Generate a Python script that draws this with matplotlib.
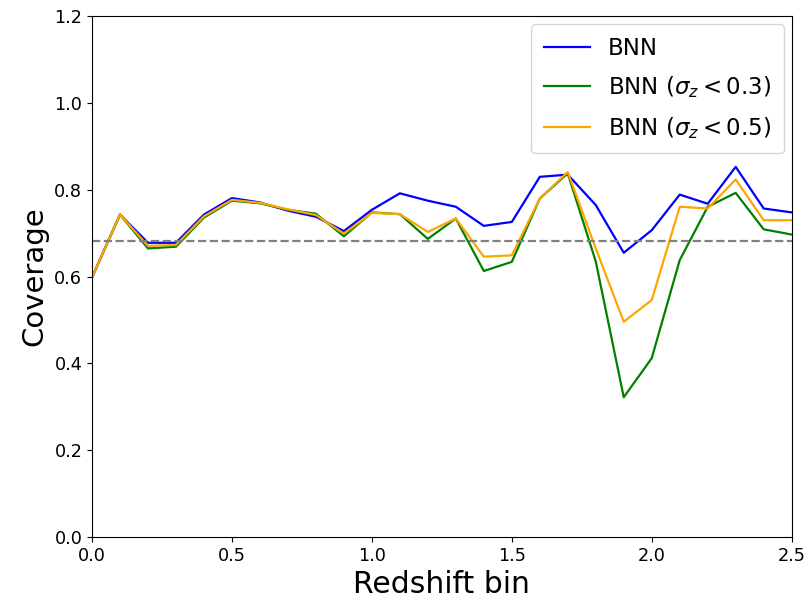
import matplotlib
matplotlib.use("Agg")
import matplotlib.pyplot as plt
import numpy as np

# redshift bins
z_bins = np.round(np.arange(0.0, 2.51, 0.1), 1)

cov_bnn = [0.598, 0.743, 0.678, 0.678, 0.743, 0.781, 0.771, 0.752, 0.738, 0.705,
           0.754, 0.792, 0.775, 0.761, 0.717, 0.726, 0.830, 0.835, 0.765, 0.655,
           0.707, 0.789, 0.768, 0.853, 0.757, 0.748]
cov_sig03 = [0.598, 0.743, 0.665, 0.669, 0.736, 0.775, 0.769, 0.754, 0.745, 0.693,
             0.748, 0.744, 0.687, 0.734, 0.613, 0.634, 0.780, 0.838, 0.635, 0.322,
             0.412, 0.638, 0.761, 0.793, 0.709, 0.697]
cov_sig05 = [0.598, 0.743, 0.671, 0.673, 0.739, 0.777, 0.770, 0.755, 0.742, 0.699,
             0.747, 0.744, 0.703, 0.734, 0.646, 0.649, 0.780, 0.841, 0.665, 0.496,
             0.546, 0.761, 0.757, 0.824, 0.730, 0.730]
target = 0.683

fig = plt.figure(figsize=(8.07, 6.03), dpi=100)
ax = fig.add_axes([0.114, 0.1095, 0.867, 0.8635])

ax.plot(z_bins, cov_bnn, color='blue', lw=1.6, label='BNN')
ax.plot(z_bins, cov_sig03, color='green', lw=1.6, label=r'BNN ($\sigma_z < 0.3$)')
ax.plot(z_bins, cov_sig05, color='orange', lw=1.6, label=r'BNN ($\sigma_z < 0.5$)')
ax.axhline(target, color='grey', ls='--', lw=1.6)

ax.set_xlim(0, 2.5)
ax.set_ylim(0, 1.2)
ax.tick_params(axis='both', labelsize=12.7)
ax.set_xlabel('Redshift bin', fontsize=21.5)
ax.set_ylabel('Coverage', fontsize=21)
ax.legend(loc='upper right', fontsize=16.5, labelspacing=0.63, borderpad=0.55,
          borderaxespad=0.35)

plt.savefig('out.png', dpi=100)
